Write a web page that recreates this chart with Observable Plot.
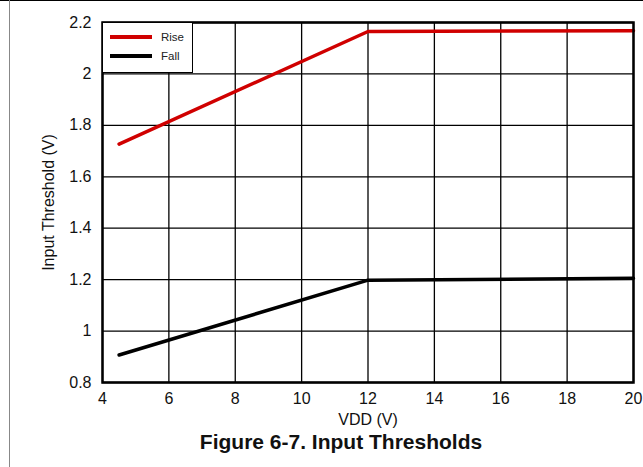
<!DOCTYPE html>
<html>
<head>
<meta charset="utf-8">
<script src="https://cdn.jsdelivr.net/npm/d3@7"></script>
<script src="https://cdn.jsdelivr.net/npm/@observablehq/plot@0.6"></script>
<style>
  html, body { margin: 0; padding: 0; background: #fff; }
  #wrap { position: relative; width: 643px; height: 467px; overflow: hidden; font-family: "Liberation Sans", Arial, sans-serif; }
  #topline { position: absolute; left: 0; top: 0; width: 643px; height: 0; border-top: 1.5px solid #000; }
  #leftline { position: absolute; left: 9px; top: 0; width: 0; height: 467px; border-left: 1px solid #888; }
  #legend { position: absolute; left: 102px; top: 22px; width: 91px; height: 51px; background: #fff; border: 1.5px solid #000; box-sizing: border-box; font-size: 11.5px; color: #222; }
  .row { position: absolute; left: 7px; display: flex; align-items: center; }
  .sw { width: 42px; height: 3.5px; margin-right: 9px; }
</style>
</head>
<body>
<div id="wrap">
  <div id="chart"></div>
  <div id="topline"></div>
  <div id="leftline"></div>
  <div id="legend">
    <div class="row" style="top:8px"><div class="sw" style="background:#d00000"></div><span id="l0"></span></div>
    <div class="row" style="top:27px"><div class="sw" style="background:#000"></div><span id="l1"></span></div>
  </div>
</div>
<script>
const vdd = [4.5, 12, 20];
const rise = [1.727, 2.165, 2.168];
const fall = [0.907, 1.198, 1.205];
const seriesNames = ["Rise", "Fall"];
const seriesColors = ["#d00000", "#000000"];
const xTicks = [4, 6, 8, 10, 12, 14, 16, 18, 20];
const yTicks = [0.8, 1, 1.2, 1.4, 1.6, 1.8, 2, 2.2];
const titleText = "Figure 6-7. Input Thresholds";

const data = [];
vdd.forEach((v, i) => {
  data.push({vdd: v, value: rise[i], series: seriesNames[0]});
  data.push({vdd: v, value: fall[i], series: seriesNames[1]});
});

document.getElementById("l0").textContent = seriesNames[0];
document.getElementById("l1").textContent = seriesNames[1];

const chart = Plot.plot({
  width: 643,
  height: 467,
  marginLeft: 102,
  marginRight: 10,
  marginTop: 22,
  marginBottom: 85,
  style: {fontFamily: "'Liberation Sans', Arial, sans-serif", fontSize: "16px", color: "#111", background: "#fff"},
  x: {domain: [4, 20]},
  y: {domain: [0.8, 2.2]},
  color: {domain: seriesNames, range: seriesColors},
  marks: [
    Plot.gridX(xTicks, {stroke: "#000", strokeOpacity: 1, strokeWidth: 1.3}),
    Plot.gridY(yTicks, {stroke: "#000", strokeOpacity: 1, strokeWidth: 1.3}),
    Plot.axisX({ticks: xTicks, tickSize: 0, tickPadding: 10, fontSize: 16, label: "VDD (V)", labelAnchor: "center", labelArrow: "none", labelOffset: 42}),
    Plot.axisY({ticks: yTicks, tickSize: 0, tickPadding: 11, fontSize: 16, tickFormat: d => String(+d.toFixed(1)), label: "Input Threshold (V)", labelAnchor: "center", labelArrow: "none", labelOffset: 60}),
    Plot.lineY(data, {x: "vdd", y: "value", z: "series", stroke: "series", strokeWidth: 3.5}),
    Plot.frame({stroke: "#000", strokeWidth: 2.5}),
    Plot.text([titleText], {text: d => d, frameAnchor: "bottom", dy: 66, dx: -27, fontSize: 21, fontWeight: "bold", fill: "#111"})
  ]
});
document.getElementById("chart").appendChild(chart);
</script>
</body>
</html>
